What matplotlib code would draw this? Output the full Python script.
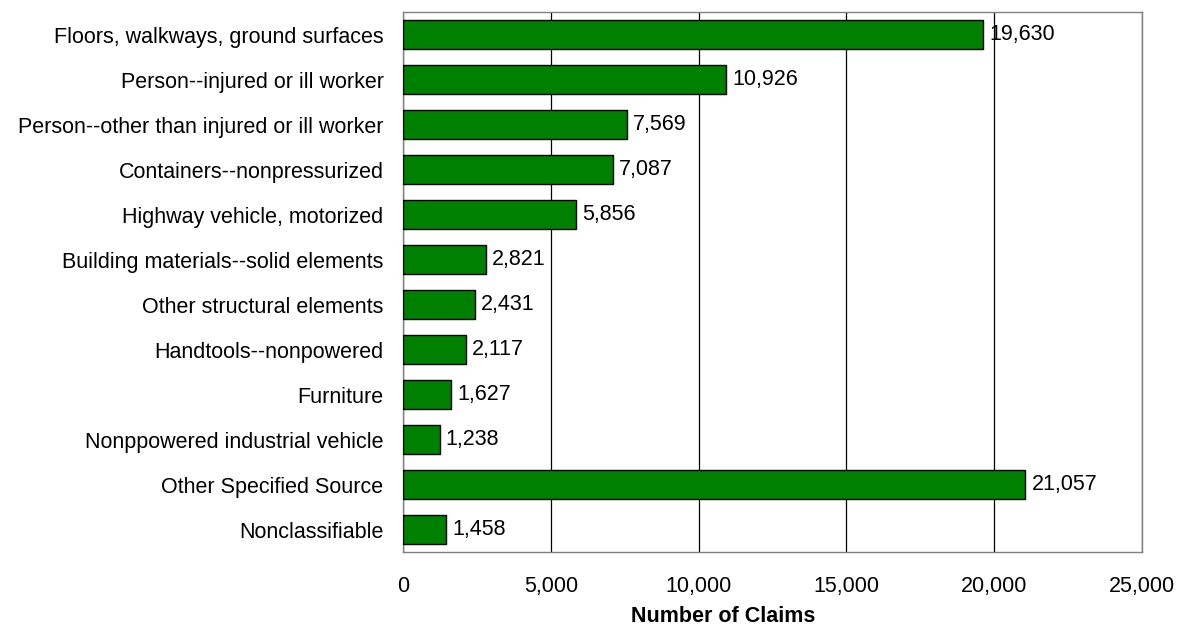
import numpy as np
import matplotlib.pyplot as plt

plt.rcParams['font.family'] = ['Liberation Sans', 'DejaVu Sans']

categories = [
    "Floors, walkways, ground surfaces",
    "Person--injured or ill worker",
    "Person--other than injured or ill worker",
    "Containers--nonpressurized",
    "Highway vehicle, motorized",
    "Building materials--solid elements",
    "Other structural elements",
    "Handtools--nonpowered",
    "Furniture",
    "Nonppowered industrial vehicle",
    "Other Specified Source",
    "Nonclassifiable",
]
claims = [19630, 10926, 7569, 7087, 5856, 2821, 2431, 2117, 1627, 1238, 21057, 1458]
xticks = [0, 5000, 10000, 15000, 20000, 25000]

fs = 15.5

fig = plt.figure(figsize=(11.77, 6.26), dpi=100)
ax = fig.add_axes([0.3424, 0.1182, 0.6279, 0.8626])

y = np.arange(len(categories))
ax.barh(y, claims, height=0.65, color='#008000', edgecolor='black', linewidth=1.0, zorder=3)

# value labels at the end of each bar
for yi, v in zip(y, claims):
    ax.text(v + 200, yi, f"{v:,}", va='center', ha='left', fontsize=fs, zorder=4)

ax.set_ylim(len(categories) - 0.5, -0.5)
ax.set_xlim(0, 25000)
ax.set_xticks(xticks)
ax.set_xticklabels([f"{t:,}" for t in xticks])
ax.set_yticks(y)
ax.set_yticklabels(categories)
ax.tick_params(axis='both', length=0, labelsize=fs)
ax.tick_params(axis='y', pad=14)
ax.tick_params(axis='x', pad=17)
ax.grid(axis='x', color='black', linewidth=0.9, zorder=0)
for s in ax.spines.values():
    s.set_color('#808080')
    s.set_linewidth(1.0)

ax.set_xlabel("Number of Claims", fontsize=fs, fontweight='bold')
ax.xaxis.label.set_va('center')
ax.xaxis.set_label_coords(0.433, -0.120)

fig.savefig("out.png", dpi=100)
